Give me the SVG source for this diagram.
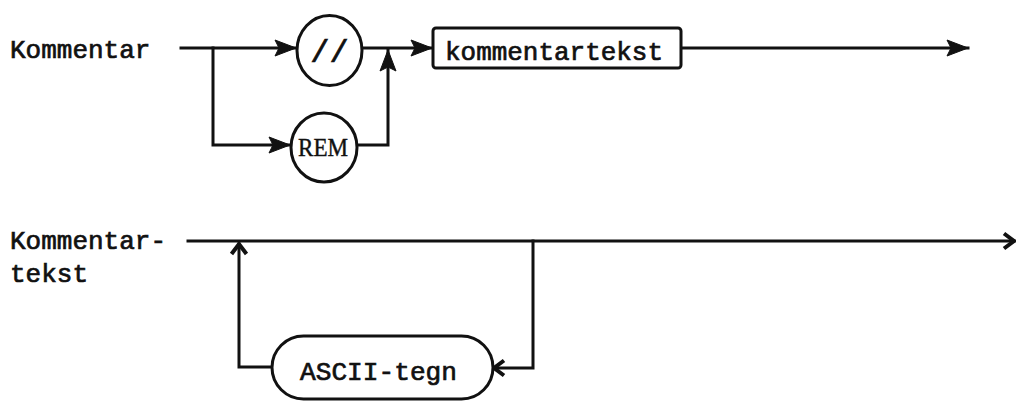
<svg xmlns="http://www.w3.org/2000/svg" width="1016" height="401" viewBox="0 0 1016 401">
  <defs>
    <style>
      .bg { fill: #ffffff; }
      .line { fill: none; stroke: #111; stroke-width: 3; stroke-linecap: square; stroke-linejoin: miter; }
      .shape { fill: #ffffff; stroke: #111; stroke-width: 3; }
      .tw { font-family: "Liberation Mono", "DejaVu Sans Mono", monospace; font-size: 26px; fill: #111; stroke: #111; stroke-width: 0.7; }
      .tw.big { font-size: 32px; }
      .serif { font-family: "Liberation Serif", "DejaVu Serif", serif; font-size: 25px; fill: #111; stroke: #111; stroke-width: 0.4; }
    </style>
    <!-- solid barbed arrowhead -->
    <marker id="barb" markerUnits="userSpaceOnUse" markerWidth="24" markerHeight="18" refX="21" refY="8" orient="auto" overflow="visible">
      <path d="M0,0 L21,8 L0,16 L4,8 Z" fill="#111" stroke="#111" stroke-width="1" stroke-linejoin="round"/>
    </marker>
    <!-- open chevron arrowhead -->
    <marker id="chev" markerUnits="userSpaceOnUse" markerWidth="16" markerHeight="20" refX="12" refY="9" orient="auto" overflow="visible">
      <path d="M2,1.5 L12,9 L2,16.5" fill="none" stroke="#111" stroke-width="4" stroke-linejoin="miter"/>
    </marker>
  </defs>

  <rect class="bg" x="0" y="0" width="1016" height="401"/>

  <!-- connectors -->
  <g id="connectors">
    <!-- Kommentar -->
    <path class="line" d="M181,48 H296" marker-end="url(#barb)"/>
    <path class="line" d="M213,48 V145 H290" marker-end="url(#barb)"/>
    <path class="line" d="M362,48 H432" marker-end="url(#barb)"/>
    <path class="line" d="M357,145 H388 V50" marker-end="url(#barb)"/>
    <path class="line" d="M681,48 H968" marker-end="url(#barb)"/>
    <!-- Kommentartekst -->
    <path class="line" d="M188,241 H1014" marker-end="url(#chev)"/>
    <path class="line" d="M272,367 H239 V244" marker-end="url(#chev)"/>
    <path class="line" d="M533,241 V368 H494" marker-end="url(#chev)"/>
  </g>

  <!-- rule names -->
  <g id="label-kommentar">
    <text class="tw" x="10" y="58">Kommentar</text>
  </g>
  <g id="label-kommentartekst">
    <text class="tw" x="10" y="249">Kommentar-</text>
    <text class="tw" x="10" y="282">tekst</text>
  </g>

  <!-- terminals and non-terminals -->
  <g id="node-slashes">
    <ellipse class="shape" cx="329.5" cy="50.5" rx="32.5" ry="35"/>
    <text class="tw big" x="329.5" y="62" text-anchor="middle">//</text>
  </g>
  <g id="node-rem">
    <ellipse class="shape" cx="324" cy="147.5" rx="33" ry="34.5"/>
    <text class="serif" x="323" y="156" text-anchor="middle" textLength="50" lengthAdjust="spacingAndGlyphs">REM</text>
  </g>
  <g id="node-kommentartekst">
    <rect class="shape" x="433" y="28" width="248" height="40" rx="3"/>
    <text class="tw" x="445" y="60" textLength="218" lengthAdjust="spacingAndGlyphs">kommentartekst</text>
  </g>
  <g id="node-ascii">
    <rect class="shape" x="272" y="336" width="221" height="63" rx="31.5"/>
    <text class="tw" x="300" y="380" textLength="157" lengthAdjust="spacingAndGlyphs">ASCII-tegn</text>
  </g>
</svg>
